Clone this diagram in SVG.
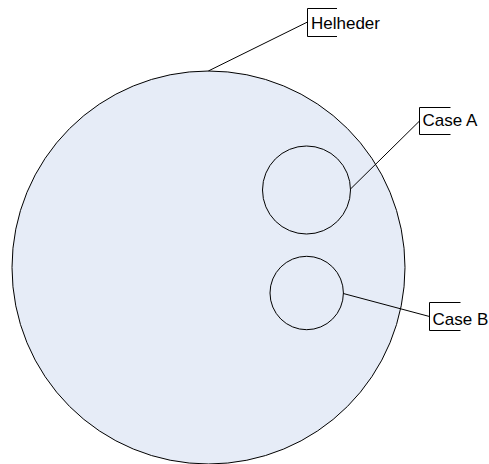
<svg xmlns="http://www.w3.org/2000/svg" width="489" height="464" viewBox="0 0 489 464">
<style>
.c{fill:#E6ECF7;stroke:#000;stroke-width:1}
.l{fill:none;stroke:#000;stroke-width:1}
.b{fill:none;stroke:#000;stroke-width:1}
.t{font-family:"Liberation Sans",Arial,sans-serif;font-size:17px;fill:#000}
</style>
<rect width="489" height="464" fill="#fff"/>
<g id="helheder-circle"><circle class="c" cx="208.5" cy="267.5" r="196.5"/></g>
<g id="case-a-circle"><circle class="c" cx="306.5" cy="190" r="44"/></g>
<g id="case-b-circle"><circle class="c" cx="306.7" cy="293" r="36.7"/></g>
<g id="connectors">
<line class="l" x1="208.3" y1="71" x2="307.5" y2="22"/>
<line class="l" x1="350.5" y1="189" x2="419.5" y2="121"/>
<line class="l" x1="343.3" y1="293.5" x2="429.5" y2="316.5"/>
</g>
<g id="label-helheder">
<path class="b" d="M337,8.5 H307.5 V36.5 H337"/>
<text class="t" x="311" y="29">Helheder</text>
</g>
<g id="label-case-a">
<path class="b" d="M450.5,107.5 H419.5 V134.5 H450.5"/>
<text class="t" x="422.5" y="126">Case A</text>
</g>
<g id="label-case-b">
<path class="b" d="M460.5,302.5 H429.5 V330.5 H460.5"/>
<text class="t" x="432.5" y="325">Case B</text>
</g>
</svg>
